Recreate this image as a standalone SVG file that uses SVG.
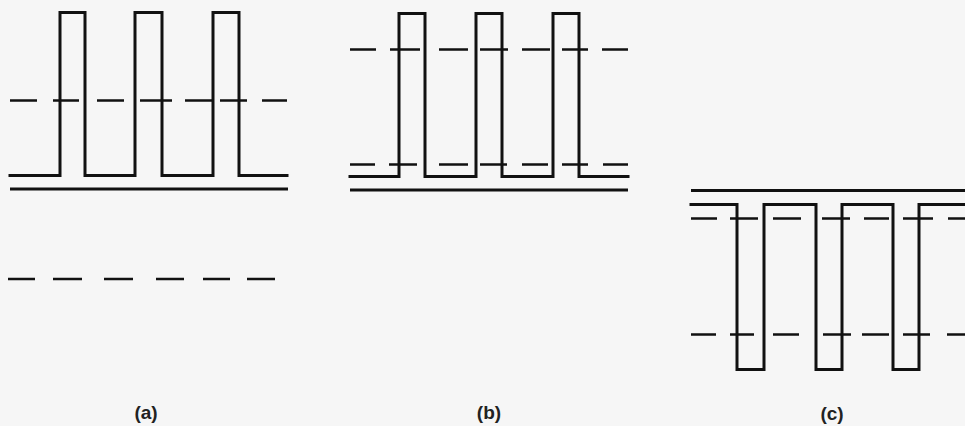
<svg xmlns="http://www.w3.org/2000/svg" width="965" height="426" viewBox="0 0 965 426">
<style>
.wave{fill:none;stroke:#111;stroke-width:3;stroke-linejoin:miter;stroke-linecap:square}
.solid{fill:none;stroke:#111;stroke-width:3}
.dash{fill:none;stroke:#111;stroke-width:2.5}
.lbl{font-family:"Liberation Sans",Arial,sans-serif;font-size:19px;font-weight:bold;fill:#222;text-anchor:middle}
</style>
<rect width="965" height="426" fill="#f6f6f6"/>
<g id="panel-a">
<path class="wave" d="M10,175.5 H60 V12.5 H85 V175.5 H135 V12.5 H162 V175.5 H213 V12.5 H239 V175.5 H287"/>
<line class="solid" x1="10" y1="189" x2="288" y2="189"/>
<path class="dash" d="M10,100.5H37 M53,100.5H79 M97,100.5H124 M140,100.5H172 M185,100.5H213 M220,100.5H247 M262,100.5H287"/>
<path class="dash" d="M8,279H35 M53,279H82 M104,279H133 M156,279H184 M203,279H230 M247,279H275"/>
<text class="lbl" x="146" y="419">(a)</text>
</g>
<g id="panel-b">
<path class="wave" d="M350,176.5 H399 V13.5 H425 V176.5 H476 V13.5 H502 V176.5 H553 V13.5 H579 V176.5 H628"/>
<line class="solid" x1="350" y1="190" x2="628" y2="190"/>
<path class="dash" d="M350,49.5H376 M390,49.5H420 M439,49.5H468 M480,49.5H508 M522,49.5H550 M562,49.5H588 M602,49.5H628"/>
<path class="dash" d="M350,164.5H375 M389,164.5H417 M439,164.5H468 M480,164.5H507 M522,164.5H548 M562,164.5H588 M603,164.5H628"/>
<text class="lbl" x="489" y="419">(b)</text>
</g>
<g id="panel-c">
<line class="solid" x1="691" y1="190.5" x2="965" y2="190.5"/>
<path class="wave" d="M691,204.5 H737 V369.5 H764 V204.5 H816 V369.5 H842 V204.5 H893 V369.5 H919 V204.5 H967"/>
<path class="dash" d="M691,218.5H717 M730,218.5H758 M773,218.5H801 M822,218.5H850 M864,218.5H889 M903,218.5H933 M948,218.5H965"/>
<path class="dash" d="M691,334.5H716 M730,334.5H754 M773,334.5H799 M823,334.5H851 M862,334.5H889 M903,334.5H930 M947,334.5H965"/>
<text class="lbl" x="832" y="420">(c)</text>
</g>
</svg>
